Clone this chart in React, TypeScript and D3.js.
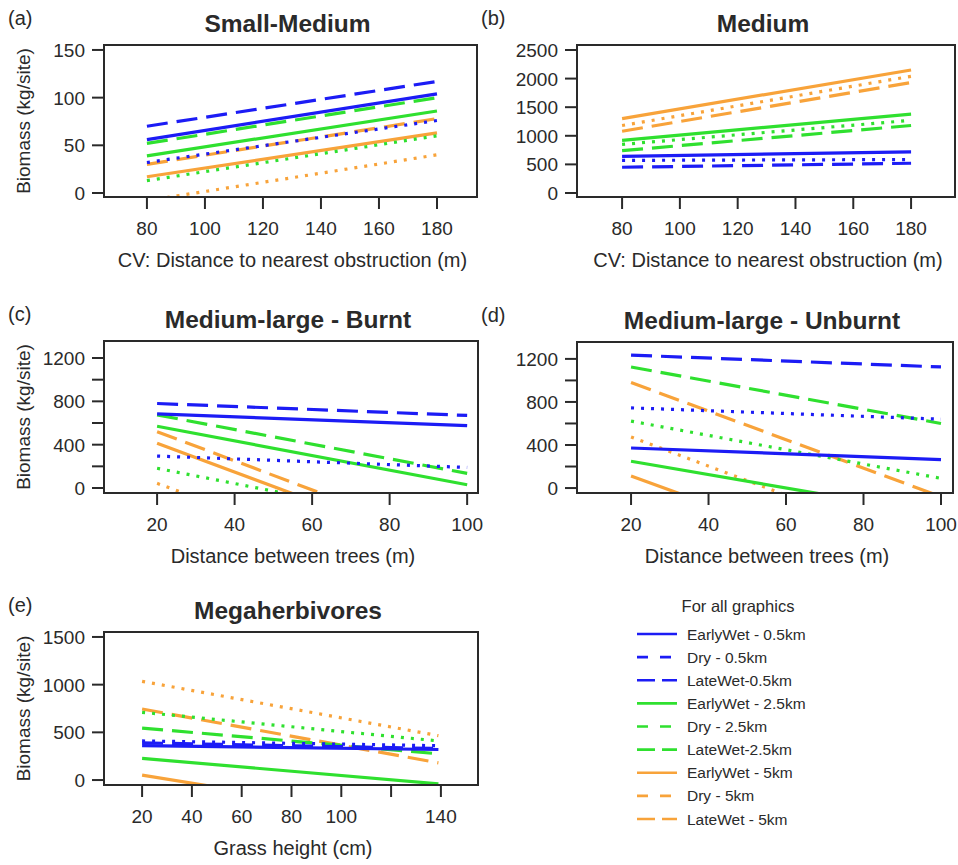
import * as d3 from "d3";

// series order: blue, green, orange × EarlyWet, Dry, LateWet
const SERIES_NAMES = [
  "EarlyWet - 0.5km", "Dry - 0.5km", "LateWet-0.5km",
  "EarlyWet - 2.5km", "Dry - 2.5km", "LateWet-2.5km",
  "EarlyWet - 5km", "Dry - 5km", "LateWet - 5km",
];
const SERIES_COLOR = ["blue", "blue", "blue", "green", "green", "green", "orange", "orange", "orange"];
const SERIES_KIND = ["early", "dry", "late", "early", "dry", "late", "early", "dry", "late"];

// (a) Small-Medium, x = CV distance (m)
const smallMediumX = [80, 180];
const smallMediumStart = [56, 32, 70, 39, 13, 52, 17, -8, 30];
const smallMediumEnd = [104, 76, 117, 86, 60, 100, 63, 40, 78];

// (b) Medium
const mediumX = [80, 180];
const mediumStart = [640, 570, 450, 920, 850, 740, 1300, 1180, 1080];
const mediumEnd = [720, 585, 520, 1380, 1270, 1180, 2150, 2040, 1930];

// (c) Medium-large - Burnt, x = distance between trees
const burntX = [20, 100];
const burntStart = [685, 295, 780, 570, 182, 675, 413, 43, 520];
const burntEnd = [575, 190, 670, 30, -380, 135, -650, -997, -555];

// (d) Medium-large - Unburnt
const unburntX = [20, 100];
const unburntStart = [372, 745, 1235, 249, 622, 1125, 111, 474, 980];
const unburntEnd = [265, 640, 1125, -247, 90, 600, -929, -606, -80];

// (e) Megaherbivores, x = grass height
const megaX = [20, 139];
const megaStart = [360, 410, 390, 227, 710, 545, 52, 1035, 745];
const megaEnd = [320, 360, 330, -40, 410, 275, -452, 465, 180];

const xTicksCV = [80, 100, 120, 140, 160, 180];
const xTicksTrees = [20, 40, 60, 80, 100];
const xTicksGrass = [20, 40, 60, 80, 100, 120, 140];
const xLabelsGrass = [20, 40, 60, 80, 100, 140];

const COLORS: Record<string, string> = {
  blue: "#1c1cf5",
  green: "#2fe02f",
  orange: "#f8a33a",
};
const DASH: Record<string, string | undefined> = {
  early: undefined,
  dry: "3,7",
  late: "21,9",
};

const FONT = "'Liberation Sans', Arial, Helvetica, sans-serif";
const INK = "#2a2a2a";

type PanelCfg = {
  id: string;
  tag: string;
  title: string;
  box: { l: number; r: number; t: number; b: number };
  xDomain: [number, number];
  yDomain: [number, number];
  xTicks: number[];
  xLabels: number[];
  yTicks: number[];
  yLabels: number[];
  xRange: number[];
  start: number[];
  end: number[];
  xTitle: string;
  yTitle: boolean;
};

const panels: PanelCfg[] = [
  {
    id: "a", tag: "(a)", title: "Small-Medium",
    box: { l: 104, r: 477, t: 45, b: 197 },
    xDomain: [65.2, 193.8], yDomain: [-4.2, 155.2],
    xTicks: xTicksCV, xLabels: xTicksCV,
    yTicks: [0, 50, 100, 150], yLabels: [0, 50, 100, 150],
    xRange: smallMediumX, start: smallMediumStart, end: smallMediumEnd,
    xTitle: "CV: Distance to nearest obstruction (m)", yTitle: true,
  },
  {
    id: "b", tag: "(b)", title: "Medium",
    box: { l: 577, r: 955, t: 45, b: 197 },
    xDomain: [64.4, 195.2], yDomain: [-70, 2587],
    xTicks: xTicksCV, xLabels: xTicksCV,
    yTicks: [0, 500, 1000, 1500, 2000, 2500], yLabels: [0, 500, 1000, 1500, 2000, 2500],
    xRange: mediumX, start: mediumStart, end: mediumEnd,
    xTitle: "CV: Distance to nearest obstruction (m)", yTitle: false,
  },
  {
    id: "c", tag: "(c)", title: "Medium-large - Burnt",
    box: { l: 104, r: 478, t: 341, b: 493 },
    xDomain: [6.3, 102.8], yDomain: [-46, 1357],
    xTicks: xTicksTrees, xLabels: xTicksTrees,
    yTicks: [0, 200, 400, 600, 800, 1000, 1200], yLabels: [0, 400, 800, 1200],
    xRange: burntX, start: burntStart, end: burntEnd,
    xTitle: "Distance between trees (m)", yTitle: true,
  },
  {
    id: "d", tag: "(d)", title: "Medium-large - Unburnt",
    box: { l: 577, r: 953, t: 342, b: 493 },
    xDomain: [6.05, 103.1], yDomain: [-46, 1357],
    xTicks: xTicksTrees, xLabels: xTicksTrees,
    yTicks: [0, 200, 400, 600, 800, 1000, 1200], yLabels: [0, 400, 800, 1200],
    xRange: unburntX, start: unburntStart, end: unburntEnd,
    xTitle: "Distance between trees (m)", yTitle: false,
  },
  {
    id: "e", tag: "(e)", title: "Megaherbivores",
    box: { l: 104, r: 478, t: 632, b: 785 },
    xDomain: [4.7, 154.9], yDomain: [-52, 1552],
    xTicks: xTicksGrass, xLabels: xLabelsGrass,
    yTicks: [0, 500, 1000, 1500], yLabels: [0, 500, 1000, 1500],
    xRange: megaX, start: megaStart, end: megaEnd,
    xTitle: "Grass height (cm)", yTitle: true,
  },
];

function Panel({ p }: { p: PanelCfg }) {
  const { box } = p;
  const x = d3.scaleLinear().domain(p.xDomain).range([box.l, box.r]);
  const y = d3.scaleLinear().domain(p.yDomain).range([box.b, box.t]);
  const line = d3.line<[number, number]>().x((d) => x(d[0])).y((d) => y(d[1]));
  const cx = (box.l + box.r) / 2 - 3;
  const cy = (box.t + box.b) / 2;
  const order = d3.range(SERIES_NAMES.length).reverse();

  return (
    <g fontFamily={FONT} fill={INK}>
      <defs>
        <clipPath id={`clip-${p.id}`}>
          <rect x={box.l} y={box.t} width={box.r - box.l} height={box.b - box.t} />
        </clipPath>
      </defs>
      <text x={box.l - 96} y={box.t - 20} fontSize={20}>{p.tag}</text>
      <text x={cx} y={box.t - 13} fontSize={24.5} fontWeight="bold" textAnchor="middle">
        {p.title}
      </text>

      <g clipPath={`url(#clip-${p.id})`}>
        {order.map((i) => (
          <path
            key={i}
            d={line([[p.xRange[0], p.start[i]], [p.xRange[1], p.end[i]]]) ?? ""}
            fill="none"
            stroke={COLORS[SERIES_COLOR[i]]}
            strokeWidth={3.2}
            strokeDasharray={DASH[SERIES_KIND[i]]}
          />
        ))}
      </g>

      <rect x={box.l} y={box.t} width={box.r - box.l} height={box.b - box.t}
        fill="none" stroke={INK} strokeWidth={2} />

      {/* y axis */}
      {p.yTicks.map((v) => (
        <line key={v} x1={box.l - 12} x2={box.l} y1={y(v)} y2={y(v)} stroke={INK} strokeWidth={2} />
      ))}
      {p.yLabels.map((v) => (
        <text key={v} x={box.l - 19} y={y(v) + 7} fontSize={19} textAnchor="end">{v}</text>
      ))}
      {p.yTitle && (
        <text transform={`translate(${box.l - 80},${cy}) rotate(-90)`} fontSize={19}
          textAnchor="middle" dy={6}>
          Biomass (kg/site)
        </text>
      )}

      {/* x axis */}
      {p.xTicks.map((v) => (
        <line key={v} x1={x(v)} x2={x(v)} y1={box.b + 1} y2={box.b + 12} stroke={INK} strokeWidth={2} />
      ))}
      {p.xLabels.map((v) => (
        <text key={v} x={x(v)} y={box.b + 38} fontSize={19} textAnchor="middle">{v}</text>
      ))}
      <text x={(box.l + box.r) / 2 + 2} y={box.b + 70} fontSize={20} textAnchor="middle">
        {p.xTitle}
      </text>
    </g>
  );
}

function Legend() {
  const rowY = d3.scaleLinear().domain([0, 8]).range([634, 819]);
  const legendDash: Record<string, string | undefined> = { early: undefined, dry: "11,12", late: "18,7" };
  return (
    <g fontFamily={FONT} fill={INK}>
      <text x={738} y={612} fontSize={16.5} textAnchor="middle">For all graphics</text>
      {SERIES_NAMES.map((name, i) => (
        <g key={name}>
          <line x1={637} x2={677} y1={rowY(i)} y2={rowY(i)}
            stroke={COLORS[SERIES_COLOR[i]]} strokeWidth={2.6}
            strokeDasharray={legendDash[SERIES_KIND[i]]} />
          <text x={687} y={rowY(i) + 5.5} fontSize={15.5}>{name}</text>
        </g>
      ))}
    </g>
  );
}

export default function App() {
  return (
    <svg width={958} height={865} style={{ position: "absolute", left: 0, top: 0, background: "#fff" }}>
      <rect width={958} height={865} fill="#fff" />
      {panels.map((p) => <Panel key={p.id} p={p} />)}
      <Legend />
    </svg>
  );
}
